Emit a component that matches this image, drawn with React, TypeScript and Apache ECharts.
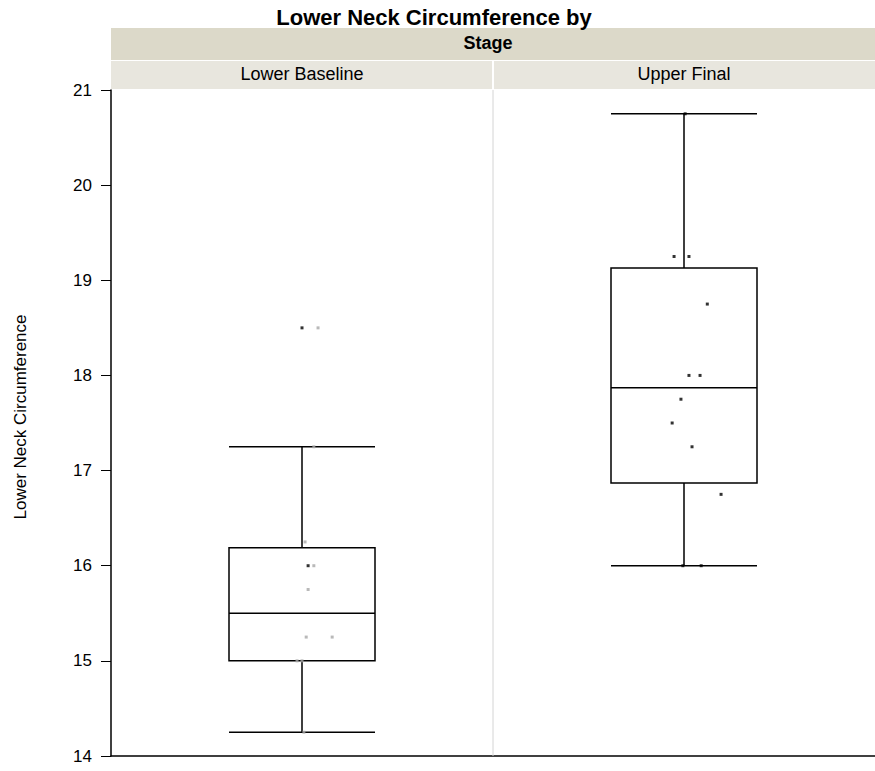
import React, { useEffect, useRef } from "react";
import * as echarts from "echarts";

const categories = ["Lower Baseline", "Upper Final"];
// [min whisker, Q1, median, Q3, max whisker]
const boxValues = [
  [14.25, 15.0, 15.5, 16.19, 17.25],
  [16.0, 16.87, 17.87, 19.13, 20.75],
];
// points: [x position within 0..2 (jittered), value]
const blackPoints = [
  [0.5, 18.5],
  [0.516, 16.0],
  [1.503, 20.75],
  [1.474, 19.25],
  [1.513, 19.25],
  [1.561, 18.75],
  [1.513, 18.0],
  [1.542, 18.0],
  [1.492, 17.75],
  [1.469, 17.5],
  [1.521, 17.25],
  [1.597, 16.75],
  [1.497, 16.0],
  [1.545, 16.0],
];
const grayPoints = [
  [0.542, 18.5],
  [0.531, 17.25],
  [0.508, 16.25],
  [0.531, 16.0],
  [0.516, 15.75],
  [0.511, 15.25],
  [0.579, 15.25],
  [0.487, 15.0],
  [0.5, 15.0],
  [0.505, 14.25],
];
const yTicks = { min: 14, max: 21, interval: 1 };
const titleText = "Lower Neck Circumference by";
const headerText = "Stage";
const yName = "Lower Neck Circumference";

export default function App() {
  const ref = useRef<HTMLDivElement>(null);
  useEffect(() => {
    if (!ref.current) return;
    const chart = echarts.init(ref.current, undefined, { renderer: "svg" });
    const font = "Liberation Sans, Arial, sans-serif";
    const L = 111, R = 875, mid = (L + R) / 2;
    chart.setOption({
      animation: false,
      textStyle: { fontFamily: font },
      grid: { left: L, right: 0, top: 90, bottom: 15, containLabel: false, outerBoundsMode: "none" },
      xAxis: [
        {
          type: "category",
          data: categories,
          axisLabel: { show: false },
          axisTick: { show: false },
          axisLine: { lineStyle: { color: "#000", width: 1.5 } },
          splitLine: { show: false },
        },
        {
          type: "value",
          min: 0,
          max: 2,
          show: false,
        },
      ],
      yAxis: {
        type: "value",
        min: yTicks.min,
        max: yTicks.max,
        interval: yTicks.interval,
        name: yName,
        nameLocation: "middle",
        nameGap: 82,
        nameTextStyle: { fontSize: 17, color: "#000", fontFamily: font, padding: [0, 0, 0, 12] },
        axisLine: { show: true, lineStyle: { color: "#000", width: 1.5 } },
        axisTick: { show: true, length: 10, lineStyle: { color: "#000" } },
        axisLabel: { fontSize: 17, color: "#000", margin: 19, fontFamily: font },
        splitLine: { show: false },
      },
      graphic: [
        { type: "text", x: 434, y: 17, style: { text: titleText, fontSize: 22, fontWeight: "bold", fill: "#000", align: "center", verticalAlign: "middle", fontFamily: font }, z: 11 },
        { type: "rect", shape: { x: L, y: 28, width: R - L, height: 32 }, style: { fill: "#dcd9c9" }, z: 10 },
        { type: "text", x: 488, y: 43, style: { text: headerText, fontSize: 18, fontWeight: "bold", fill: "#000", align: "center", verticalAlign: "middle", fontFamily: font }, z: 11 },
        { type: "rect", shape: { x: L, y: 61, width: mid - L - 1, height: 28 }, style: { fill: "#e8e6de" }, z: 10 },
        { type: "rect", shape: { x: mid + 1, y: 61, width: R - mid - 1, height: 28 }, style: { fill: "#e8e6de" }, z: 10 },
        { type: "text", x: (L + mid) / 2, y: 74, style: { text: categories[0], fontSize: 18, fill: "#000", align: "center", verticalAlign: "middle", fontFamily: font }, z: 11 },
        { type: "text", x: (mid + R) / 2, y: 74, style: { text: categories[1], fontSize: 18, fill: "#000", align: "center", verticalAlign: "middle", fontFamily: font }, z: 11 },
        { type: "line", shape: { x1: mid, y1: 90, x2: mid, y2: 756 }, style: { stroke: "#d4d4d4", lineWidth: 1 }, z: 1 },
      ],
      series: [
        {
          type: "boxplot",
          xAxisIndex: 0,
          data: boxValues,
          boxWidth: [146, 146],
          itemStyle: { color: "transparent", borderColor: "#000", borderWidth: 1.5 },
          z: 2,
        },
        {
          type: "scatter",
          xAxisIndex: 1,
          data: grayPoints,
          symbol: "rect",
          symbolSize: 3,
          itemStyle: { color: "#a8a8a8" },
          z: 3,
        },
        {
          type: "scatter",
          xAxisIndex: 1,
          data: blackPoints,
          symbol: "rect",
          symbolSize: 3,
          itemStyle: { color: "#000" },
          z: 4,
        },
      ],
    });
    return () => chart.dispose();
  }, []);
  return (
    <div
      ref={ref}
      style={{ position: "absolute", left: 0, top: 0, width: 875, height: 771, background: "#fff" }}
    />
  );
}
